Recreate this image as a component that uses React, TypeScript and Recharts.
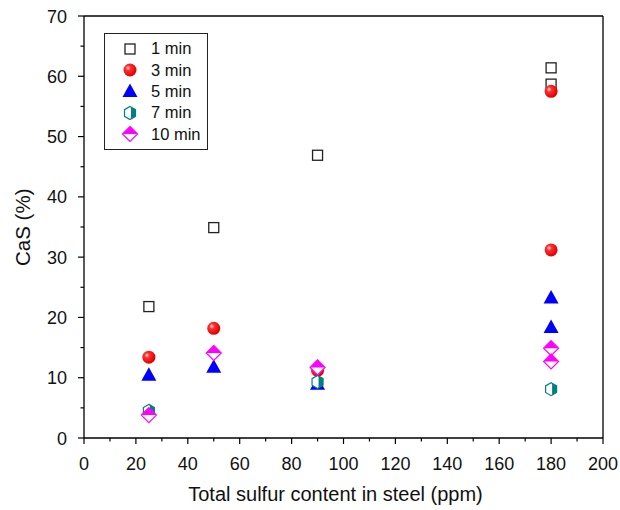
import React from 'react';
import {
  ScatterChart,
  Scatter,
  XAxis,
  YAxis,
  Legend,
  ReferenceLine,
} from 'recharts';

// sulfur content (ppm) and CaS (%) for each holding time
const x1 = [25, 50, 90, 180, 180];
const y1 = [21.8, 34.9, 46.9, 61.4, 58.7];
const x3 = [25, 50, 90, 180, 180];
const y3 = [13.4, 18.2, 11.2, 57.5, 31.2];
const x5 = [25, 50, 90, 180, 180];
const y5 = [10.5, 11.8, 9.0, 23.3, 18.4];
const x7 = [25, 90, 180];
const y7 = [4.5, 9.3, 8.1];
const x10 = [25, 50, 90, 180, 180];
const y10 = [3.8, 14.1, 11.7, 14.9, 12.7];

const xTicks = [0, 10, 20, 30, 40, 50, 60, 70, 80, 90, 100, 110, 120, 130, 140, 150, 160, 170, 180, 190, 200];
const yTicks = [0, 5, 10, 15, 20, 25, 30, 35, 40, 45, 50, 55, 60, 65, 70];

const FONT = 'Arial, "Liberation Sans", sans-serif';

const toPoints = (xs: number[], ys: number[]) => xs.map((x, i) => ({ x, y: ys[i] }));

const Square = ({ cx, cy }: any) => (
  <rect x={cx - 5} y={cy - 5} width={10} height={10} fill="#fff" stroke="#222" strokeWidth={1.3} />
);

const Sphere = ({ cx, cy }: any) => (
  <g>
    <defs>
      <radialGradient id="ball" cx="35%" cy="35%" r="65%">
        <stop offset="0%" stopColor="#ffe0e0" />
        <stop offset="30%" stopColor="#ff3030" />
        <stop offset="100%" stopColor="#e00000" />
      </radialGradient>
    </defs>
    <circle cx={cx} cy={cy} r={6.5} fill="url(#ball)" />
  </g>
);

const Triangle = ({ cx, cy }: any) => (
  <polygon points={`${cx},${cy - 7.5} ${cx + 7.5},${cy + 6} ${cx - 7.5},${cy + 6}`} fill="#0000ff" />
);

const Hexagon = ({ cx, cy }: any) => (
  <g>
    <polygon
      points={`${cx},${cy - 6.5} ${cx + 5.5},${cy - 3.3} ${cx + 5.5},${cy + 3.3} ${cx},${cy + 6.5} ${cx - 5.5},${cy + 3.3} ${cx - 5.5},${cy - 3.3}`}
      fill="#fff"
      stroke="#008080"
      strokeWidth={1.2}
    />
    <polygon
      points={`${cx + 1},${cy - 6} ${cx + 5.5},${cy - 3.3} ${cx + 5.5},${cy + 3.3} ${cx + 1},${cy + 6}`}
      fill="#008080"
    />
  </g>
);

const Diamond = ({ cx, cy }: any) => (
  <g>
    <polygon points={`${cx},${cy - 7.5} ${cx + 7.5},${cy} ${cx},${cy + 7.5} ${cx - 7.5},${cy}`} fill="#fff" stroke="#ff00ff" strokeWidth={1.2} />
    <polygon points={`${cx},${cy - 7.5} ${cx + 7.5},${cy} ${cx - 7.5},${cy}`} fill="#ff00ff" />
  </g>
);

const series = [
  { name: '1 min', xs: x1, ys: y1, shape: Square },
  { name: '3 min', xs: x3, ys: y3, shape: Sphere },
  { name: '5 min', xs: x5, ys: y5, shape: Triangle },
  { name: '7 min', xs: x7, ys: y7, shape: Hexagon },
  { name: '10 min', xs: x10, ys: y10, shape: Diamond },
];

// axis ticks with minor marks (no label)
const XTick = ({ x, y, payload }: any) => {
  const major = payload.value % 20 === 0;
  return (
    <g>
      <line x1={x} y1={y} x2={x} y2={y + (major ? 6 : 3.5)} stroke="#000" strokeWidth={1.2} />
      {major && (
        <text x={x} y={y + 32} textAnchor="middle" fontSize={18} fontFamily={FONT} fill="#111">
          {payload.value}
        </text>
      )}
    </g>
  );
};

const YTick = ({ x, y, payload }: any) => {
  const major = payload.value % 10 === 0;
  return (
    <g>
      <line x1={x - (major ? 6 : 3.5)} y1={y} x2={x} y2={y} stroke="#000" strokeWidth={1.2} />
      {major && (
        <text x={x - 17} y={y + 6.5} textAnchor="end" fontSize={18} fontFamily={FONT} fill="#111">
          {payload.value}
        </text>
      )}
    </g>
  );
};

const LegendBox = () => (
  <div
    style={{
      border: '1px solid #222',
      background: '#fff',
      padding: '4px 6px 4px 14px',
      fontFamily: FONT,
      fontSize: 16.5,
      color: '#111',
    }}
  >
    {series.map((s) => {
      const Shape = s.shape;
      return (
        <div key={s.name} style={{ display: 'flex', alignItems: 'center', height: 21.4 }}>
          <svg width={22} height={20} style={{ marginRight: 10 }}>
            <Shape cx={11} cy={10} />
          </svg>
          <span>{s.name}</span>
        </div>
      );
    })}
  </div>
);

export default function App() {
  return (
    <div style={{ position: 'absolute', left: 0, top: 0, background: '#fff' }}>
      <ScatterChart width={620} height={510} margin={{ top: 16, right: 17, left: 0, bottom: 0 }}>
        <XAxis
          type="number"
          dataKey="x"
          domain={[0, 200]}
          ticks={xTicks}
          interval={0}
          tick={<XTick />}
          tickSize={0}
          tickMargin={0}
          height={72}
          axisLine={{ stroke: '#000', strokeWidth: 1.3 }}
          allowDataOverflow
          label={{ value: 'Total sulfur content in steel (ppm)', position: 'insideBottom', offset: 9, dx: -8, fontSize: 20, fontFamily: FONT, fill: '#111' }}
        />
        <YAxis
          type="number"
          dataKey="y"
          domain={[0, 70]}
          ticks={yTicks}
          interval={0}
          tick={<YTick />}
          tickSize={0}
          tickMargin={0}
          width={84}
          axisLine={{ stroke: '#000', strokeWidth: 1.3 }}
          allowDataOverflow
          label={{ value: 'CaS (%)', angle: -90, position: 'insideLeft', offset: 23, dy: 39, fontSize: 20.5, fontFamily: FONT, fill: '#111' }}
        />
        <ReferenceLine y={70} stroke="#000" strokeWidth={1.3} />
        <ReferenceLine x={200} stroke="#000" strokeWidth={1.3} />
        {series.map((s) => (
          <Scatter
            key={s.name}
            name={s.name}
            data={toPoints(s.xs, s.ys)}
            shape={s.shape}
            isAnimationActive={false}
          />
        ))}
        <Legend
          layout="vertical"
          align="center"
          verticalAlign="middle"
          content={<LegendBox />}
          wrapperStyle={{ left: 104, top: 33, width: 'auto' }}
        />
      </ScatterChart>
    </div>
  );
}
